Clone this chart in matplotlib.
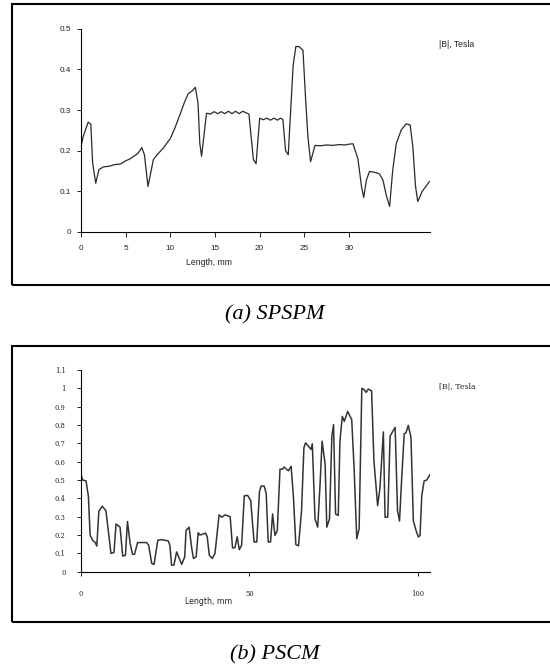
import matplotlib
matplotlib.use("Agg")
import matplotlib.pyplot as plt
from matplotlib.patches import Rectangle

# ---- data: (a) SPSPM ----
a_x = [0.0, 0.25, 0.8, 1.1, 1.3, 1.65, 2.0, 2.5, 3.2, 3.8, 4.4, 5.0, 5.5, 5.9, 6.3, 6.6, 6.8,
       7.1, 7.5, 8.1, 8.6, 9.2, 10.0, 10.5, 11.1, 11.6, 12.0, 12.5, 12.8, 13.1, 13.3, 13.5,
       14.05, 14.5, 14.9, 15.3, 15.7, 16.1, 16.5, 16.9, 17.3, 17.7, 18.1, 18.5, 18.8,
       19.3, 19.6, 20.0, 20.4, 20.8, 21.2, 21.6, 22.0, 22.3, 22.6,
       22.9, 23.2, 23.75, 24.05, 24.4, 24.85, 25.15, 25.4, 25.7, 26.2, 26.8, 27.5, 28.2, 28.9,
       29.6, 30.0, 30.45, 31.0, 31.4, 31.65, 31.95, 32.3, 33.05, 33.4, 33.8, 34.2, 34.55,
       34.9, 35.3, 35.85, 36.4, 36.85, 37.15, 37.45, 37.7, 38.2, 39.0]
a_y = [0.21, 0.235, 0.27, 0.265, 0.17, 0.12, 0.153, 0.16, 0.162, 0.166, 0.167, 0.175, 0.18, 0.186, 0.192, 0.2, 0.208,
       0.19, 0.112, 0.178, 0.192, 0.206, 0.23, 0.255, 0.29, 0.32, 0.34, 0.348, 0.356, 0.317, 0.218, 0.186,
       0.292, 0.29, 0.296, 0.291, 0.296, 0.291, 0.297, 0.291, 0.297, 0.291, 0.297, 0.293, 0.29,
       0.178, 0.168, 0.28, 0.276, 0.28, 0.275, 0.28, 0.275, 0.28, 0.277,
       0.2, 0.19, 0.41, 0.456, 0.456, 0.447, 0.325, 0.235, 0.173, 0.213, 0.212, 0.214, 0.213, 0.215,
       0.214, 0.216, 0.217, 0.18, 0.112, 0.085, 0.128, 0.149, 0.146, 0.143, 0.128, 0.088, 0.063,
       0.153, 0.218, 0.251, 0.266, 0.263, 0.21, 0.112, 0.075, 0.1, 0.124]

# ---- data: (b) PSCM ----
b_x = [0.0, 0.5, 1.5, 2.2, 2.7, 3.5, 4.2, 4.7, 5.3, 6.3, 7.4, 8.9, 9.8, 10.4, 11.6, 12.4, 13.2, 13.8,
       14.6, 15.3, 15.9, 16.8, 19.5, 20.1, 21.0, 21.7, 22.8, 23.8, 25.9, 26.4, 26.9, 27.6, 28.4,
       29.0, 29.9, 30.8, 31.2, 32.1, 32.9, 33.4, 34.2, 34.8, 35.3, 37.0, 37.5, 38.1, 39.0, 39.8,
       41.0, 41.8, 42.8, 44.3, 45.0, 45.7, 46.4, 47.0, 47.7, 48.5, 49.5, 50.4, 51.4, 52.2, 53.0,
       53.5, 54.4, 55.0, 55.6, 56.3, 56.9, 57.6, 58.3, 59.1, 59.8, 60.3, 61.6, 62.4, 63.1, 63.8,
       64.6, 65.5, 66.2, 66.7, 67.5, 68.3, 68.7, 69.5, 70.3, 71.0, 71.6, 72.5, 73.0, 73.8, 74.5,
       75.0, 75.6, 76.4, 76.9, 77.6, 78.2, 79.2, 80.4, 81.1, 81.9, 82.6, 83.4, 83.9, 84.7, 85.3,
       86.3, 87.0, 88.1, 88.8, 89.5, 89.8, 90.3, 91.1, 91.8, 92.6, 93.3, 94.0, 94.6, 95.2, 96.0,
       96.5, 97.2, 98.0, 98.7, 99.5, 100.2, 100.7, 101.2, 101.9, 102.7, 103.6]
b_y = [0.53, 0.50, 0.495, 0.41, 0.2, 0.17, 0.16, 0.14, 0.33, 0.357, 0.333, 0.1, 0.105, 0.26, 0.243, 0.085, 0.09, 0.274,
       0.153, 0.095, 0.095, 0.159, 0.159, 0.144, 0.045, 0.04, 0.171, 0.175, 0.168, 0.144, 0.036, 0.036, 0.108,
       0.081, 0.04, 0.081, 0.225, 0.243, 0.126, 0.072, 0.081, 0.213, 0.2, 0.21, 0.19, 0.09, 0.072, 0.1,
       0.31, 0.297, 0.31, 0.3, 0.13, 0.131, 0.19, 0.12, 0.144, 0.414, 0.416, 0.387, 0.162, 0.162, 0.436,
       0.467, 0.467, 0.427, 0.162, 0.162, 0.315, 0.198, 0.225, 0.559, 0.559, 0.571, 0.55, 0.575, 0.405, 0.148,
       0.141, 0.333, 0.676, 0.703, 0.685, 0.667, 0.697, 0.288, 0.243, 0.477, 0.712, 0.586, 0.243, 0.288, 0.739,
       0.802, 0.315, 0.306, 0.712, 0.847, 0.82, 0.874, 0.829, 0.568, 0.18, 0.234, 1.0, 0.996, 0.978, 0.996,
       0.986, 0.604, 0.36, 0.459, 0.676, 0.762, 0.297, 0.297, 0.739, 0.766, 0.787, 0.333, 0.276, 0.495, 0.753,
       0.757, 0.798, 0.733, 0.279, 0.225, 0.189, 0.198, 0.414, 0.495, 0.5, 0.528]

a_xticks = [0, 5, 10, 15, 20, 25, 30]
a_yticks = [0, 0.1, 0.2, 0.3, 0.4, 0.5]
a_yticklabels = ["0", "0.1", "0.2", "0.3", "0.4", "0.5"]
b_xticks = [0, 50, 100]
b_yticks = [0, 0.1, 0.2, 0.3, 0.4, 0.5, 0.6, 0.7, 0.8, 0.9, 1.0, 1.1]
b_yticklabels = ["0", "0.1", "0.2", "0.3", "0.4", "0.5", "0.6", "0.7", "0.8", "0.9", "1", "1.1"]

W, H = 550, 671
fig = plt.figure(figsize=(W / 100, H / 100), dpi=100)

def fx(px):
    return px / W

def fy(py):
    return 1 - py / H

# frames
fig.patches.append(Rectangle((fx(12), fy(285)), fx(560 - 12), fy(4) - fy(285),
                             transform=fig.transFigure, fill=False, lw=1.5, ec="black"))
fig.patches.append(Rectangle((fx(12), fy(622)), fx(560 - 12), fy(346) - fy(622),
                             transform=fig.transFigure, fill=False, lw=1.5, ec="black"))

def style(ax, fam, size):
    for s in ["top", "right"]:
        ax.spines[s].set_visible(False)
    for s in ["left", "bottom"]:
        ax.spines[s].set_linewidth(0.8)
    ax.tick_params(axis="both", direction="out", length=3, width=0.6, pad=4)
    for lab in ax.get_xticklabels() + ax.get_yticklabels():
        lab.set_family(fam)
        lab.set_fontsize(size)
        lab.set_color("#222222")

# top axes
ax1 = fig.add_axes([fx(81), fy(232), fx(430 - 81), fy(28.7) - fy(232)])
ax1.plot(a_x, a_y, color="#2a2a2a", lw=0.9)
ax1.set_xlim(0, 39.07)
ax1.set_ylim(0, 0.5)
ax1.set_xticks(a_xticks)
ax1.set_yticks(a_yticks)
ax1.set_yticklabels(a_yticklabels)
style(ax1, "Liberation Sans", 5.9)
ax1.tick_params(axis="x", length=3.5, pad=6)
fig.text(fx(209), fy(262), "Length, mm", ha="center", va="center",
         fontsize=6.2, family="Liberation Sans", color="#222222")
fig.text(fx(439), fy(44.5), "|B|, Tesla", ha="left", va="center",
         fontsize=6.2, family="Liberation Sans", color="#222222")

# bottom axes
ax2 = fig.add_axes([fx(81), fy(571.7), fx(430 - 81), fy(370) - fy(571.7)])
ax2.plot(b_x, b_y, color="#333333", lw=1.1)
ax2.set_xlim(0, 103.65)
ax2.set_ylim(0, 1.1)
ax2.set_xticks(b_xticks)
ax2.set_yticks(b_yticks)
ax2.set_yticklabels(b_yticklabels)
style(ax2, "DejaVu Serif", 4.9)
ax2.tick_params(axis="x", length=3, pad=10)
ax2.tick_params(axis="y", length=3, pad=8)
fig.text(fx(209), fy(601.7), "Length, mm", ha="center", va="center",
         fontsize=5.6, family="DejaVu Sans", color="#222222")
fig.text(fx(439), fy(386), "[B|, Tesla", ha="left", va="center",
         fontsize=5.6, family="DejaVu Serif", color="#222222")

# captions
fig.text(0.5, fy(315), "(a) SPSPM", ha="center", va="center", fontsize=16,
         family="Liberation Serif", style="italic")
fig.text(0.5, fy(655), "(b) PSCM", ha="center", va="center", fontsize=16,
         family="Liberation Serif", style="italic")

fig.savefig("out.png", dpi=100)
